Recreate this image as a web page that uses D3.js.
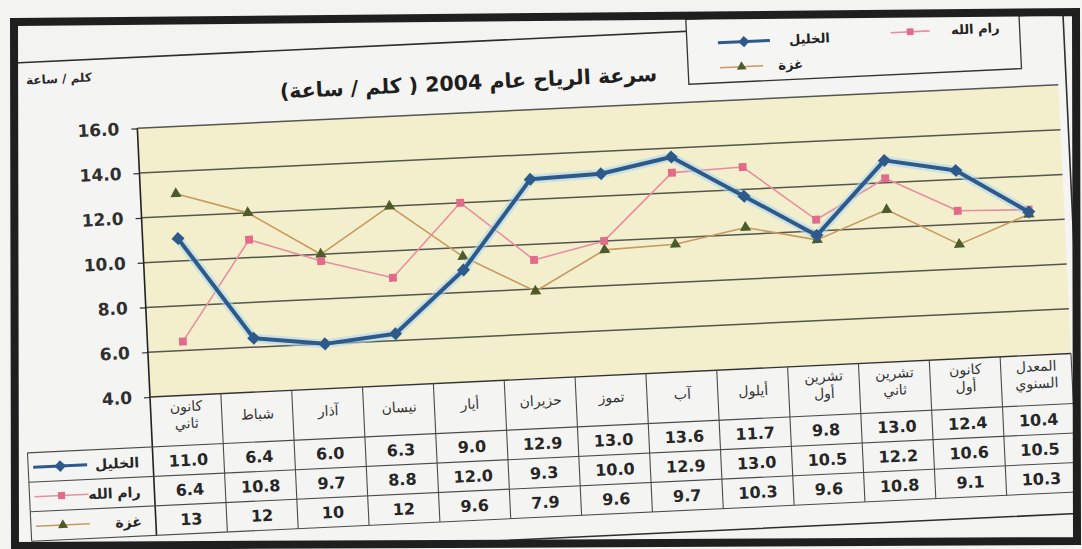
<!DOCTYPE html>
<html>
<head>
<meta charset="utf-8">
<script src="https://cdn.jsdelivr.net/npm/d3@7"></script>
<style>
  html, body { margin: 0; padding: 0; background: #f3f3f2; }
  svg { display: block; }
  text { font-family: "DejaVu Sans", "Noto Sans", sans-serif; }
</style>
</head>
<body>
<svg id="chart" width="1082" height="549"></svg>
<script>
// Wind speed 2004 (km/h) by month for three stations
const months = ["كانون ثاني", "شباط", "آذار", "نيسان", "أيار", "حزيران", "تموز",
                "آب", "أيلول", "تشرين أول", "تشرين ثاني", "كانون أول", "المعدل السنوي"];
const hebron   = [11.0, 6.4, 6.0, 6.3, 9.0, 12.9, 13.0, 13.6, 11.7, 9.8, 13.0, 12.4, 10.4];
const ramallah = [6.4, 10.8, 9.7, 8.8, 12.0, 9.3, 10.0, 12.9, 13.0, 10.5, 12.2, 10.6, 10.5];
const gaza     = [13, 12, 10, 12, 9.6, 7.9, 9.6, 9.7, 10.3, 9.6, 10.8, 9.1, 10.3];
const seriesNames = ["الخليل", "رام الله", "غزة"];
const yTicks = [4, 6, 8, 10, 12, 14, 16];
const chartTitle = "سرعة الرياح عام 2004 ( كلم / ساعة)";
const unitLabel = "كلم / ساعة";

// ---- layout ----
const plotW = 922, plotH = 269;
const headerH = 50, rowH = 29.5;
const labelColW = 125;
const tableBottom = headerH + rowH * 3;

const svg = d3.select("#chart");
svg.append("rect").attr("width", 1082).attr("height", 549).attr("fill", "#f3f3f2");

const frameCorners = [[14, 22], [1076, 12], [1077, 541], [15, 546]];
svg.append("defs").append("clipPath").attr("id", "inside")
  .append("polygon").attr("points", frameCorners.map(p => p.join(",")).join(" "));

const clipped = svg.append("g").attr("clip-path", "url(#inside)");
const g = clipped.append("g").attr("transform", "translate(150,397) rotate(-2.7)");

const x = d3.scaleBand().domain(d3.range(months.length)).range([0, plotW]);
const y = d3.scaleLinear().domain([4, 16]).range([0, -plotH]);
const cx = i => x(i) + x.bandwidth() / 2;

// chart area
g.append("rect")
  .attr("x", -170).attr("y", -340).attr("width", 1100).attr("height", 500)
  .attr("fill", "#f4f4f2").attr("stroke", "#2e2e2e").attr("stroke-width", 1.6);

// plot area
g.append("rect")
  .attr("x", 0).attr("y", y(16)).attr("width", plotW).attr("height", plotH)
  .attr("fill", "#f3efcc");

// gridlines
g.append("g").selectAll("line").data(yTicks.filter(t => t > 4)).join("line")
  .attr("x1", 0).attr("x2", plotW)
  .attr("y1", d => y(d)).attr("y2", d => y(d))
  .attr("stroke", "#3a3a3a").attr("stroke-width", 1.5).attr("opacity", 0.85);

// y axis
const yAxis = d3.axisLeft(y).tickValues(yTicks).tickSize(6).tickPadding(12)
  .tickFormat(d => d.toFixed(1));
const ya = g.append("g").call(yAxis);
ya.select(".domain").remove();
ya.selectAll(".tick line").attr("stroke", "#333").attr("stroke-width", 1.2);
ya.selectAll(".tick text")
  .attr("fill", "#2f2f2f").style("font-size", "17px").style("font-weight", "bold")
  .style("font-family", "'DejaVu Sans', sans-serif");

g.append("line").attr("x1", 0).attr("x2", 0).attr("y1", y(16)).attr("y2", tableBottom)
  .attr("stroke", "#222").attr("stroke-width", 1.6);
g.append("line").attr("x1", 0).attr("x2", plotW).attr("y1", 0).attr("y2", 0)
  .attr("stroke", "#333").attr("stroke-width", 1.4);

// ---- series ----
const series = [
  { name: seriesNames[2], values: gaza, fmt: d => String(d),
    stroke: "#c79a5d", width: 1.6, symbol: d3.symbolTriangle, size: 55, rot: 0, fill: "#4b5c2a" },
  { name: seriesNames[1], values: ramallah, fmt: d => d.toFixed(1),
    stroke: "#e78fa1", width: 1.6, symbol: d3.symbolSquare, size: 62, rot: 0, fill: "#e26b89" },
  { name: seriesNames[0], values: hebron, fmt: d => d.toFixed(1),
    stroke: "#2e5a8b", width: 4, symbol: d3.symbolSquare, size: 85, rot: 45, fill: "#2e5a8b", halo: "#a8d6f0" }
];
const [gazaS, ramallahS, hebronS] = series;

const line = d3.line().x((d, i) => cx(i)).y(d => y(d));
series.forEach(s => {
  const sg = g.append("g");
  if (s.halo) {
    sg.append("path").attr("d", line(s.values)).attr("fill", "none")
      .attr("stroke", s.halo).attr("stroke-width", 9).attr("opacity", 0.55)
      .attr("stroke-linejoin", "round");
  }
  sg.append("path").attr("d", line(s.values)).attr("fill", "none")
    .attr("stroke", s.stroke).attr("stroke-width", s.width).attr("stroke-linejoin", "round");
  sg.selectAll("path.mk").data(s.values).join("path").attr("class", "mk")
    .attr("d", d3.symbol(s.symbol, s.size))
    .attr("transform", (d, i) => `translate(${cx(i)},${y(d)}) rotate(${s.rot})`)
    .attr("fill", s.fill);
});

// ---- data table ----
const tbl = g.append("g");
const tableRows = [hebronS, ramallahS, gazaS];
const lineColor = "#4a4a4a";

// column separators
tbl.selectAll("line.col").data(d3.range(1, months.length + 1)).join("line").attr("class", "col")
  .attr("x1", d => x(d - 1) + x.bandwidth()).attr("x2", d => x(d - 1) + x.bandwidth())
  .attr("y1", 0).attr("y2", tableBottom)
  .attr("stroke", lineColor).attr("stroke-width", 1.1);
// row separators
const rowLines = [headerH, headerH + rowH, headerH + 2 * rowH, tableBottom];
tbl.selectAll("line.row").data(rowLines).join("line").attr("class", "row")
  .attr("x1", -labelColW).attr("x2", plotW).attr("y1", d => d).attr("y2", d => d)
  .attr("stroke", lineColor).attr("stroke-width", 1.1);
tbl.append("line").attr("x1", -labelColW).attr("x2", -labelColW)
  .attr("y1", headerH).attr("y2", tableBottom).attr("stroke", lineColor).attr("stroke-width", 1.1);

// month headers
months.forEach((m, i) => {
  const parts = m.split(" ");
  const t = tbl.append("text").attr("text-anchor", "middle")
    .attr("fill", "#333").style("font-size", "14px");
  if (parts.length === 1) {
    t.append("tspan").attr("x", cx(i)).attr("y", 27).text(parts[0]);
  } else {
    t.append("tspan").attr("x", cx(i)).attr("y", 16).text(parts[0]);
    t.append("tspan").attr("x", cx(i)).attr("y", 33).text(parts[1]);
  }
});

// values and row legends
tableRows.forEach((s, r) => {
  const midY = headerH + rowH * r + rowH / 2;
  tbl.append("g").selectAll("text").data(s.values).join("text")
    .attr("x", (d, i) => cx(i)).attr("y", midY).attr("dy", "0.36em")
    .attr("text-anchor", "middle").attr("fill", "#262626")
    .style("font-size", "16px").style("font-weight", "bold")
    .text(d => s.fmt(d));
  tbl.append("line").attr("x1", -120).attr("x2", -66).attr("y1", midY).attr("y2", midY)
    .attr("stroke", s.stroke).attr("stroke-width", Math.min(s.width, 3));
  tbl.append("path").attr("d", d3.symbol(s.symbol, s.size * 0.8))
    .attr("transform", `translate(-93,${midY}) rotate(${s.rot})`).attr("fill", s.fill);
  tbl.append("text").attr("x", -14).attr("y", midY).attr("dy", "0.36em")
    .attr("text-anchor", "end").attr("fill", "#262626")
    .style("font-size", "14px").style("font-weight", "bold").text(s.name);
});

// ---- legend ----
const lg = g.append("g");
lg.append("rect").attr("x", 553).attr("y", -352).attr("width", 333).attr("height", 65)
  .attr("fill", "#f5f5f3").attr("stroke", "#333").attr("stroke-width", 1.3);
const legendSlots = [
  { s: hebronS,   x1: 584, x2: 636, ty: -327, tx: 696 },
  { s: ramallahS, x1: 757, x2: 796, ty: -329, tx: 866 },
  { s: gazaS,     x1: 585, x2: 628, ty: -302, tx: 668 }
];
legendSlots.forEach(o => {
  lg.append("line").attr("x1", o.x1).attr("x2", o.x2).attr("y1", o.ty).attr("y2", o.ty)
    .attr("stroke", o.s.stroke).attr("stroke-width", Math.min(o.s.width, 3));
  lg.append("path").attr("d", d3.symbol(o.s.symbol, o.s.size * 0.75))
    .attr("transform", `translate(${(o.x1 + o.x2) / 2},${o.ty}) rotate(${o.s.rot})`)
    .attr("fill", o.s.fill);
  lg.append("text").attr("x", o.tx).attr("y", o.ty).attr("dy", "0.36em")
    .attr("text-anchor", "end").attr("fill", "#222")
    .style("font-size", "13px").style("font-weight", "bold").text(o.s.name);
});

// ---- titles ----
g.append("text").attr("x", 333).attr("y", -292)
  .attr("text-anchor", "middle").attr("direction", "rtl")
  .attr("fill", "#1e1e1e").style("font-size", "20.5px").style("font-weight", "bold")
  .text(chartTitle);
g.append("text").attr("x", -76).attr("y", -318)
  .attr("text-anchor", "middle").attr("direction", "rtl")
  .attr("fill", "#2a2a2a").style("font-size", "12px").style("font-weight", "bold")
  .text(unitLabel);

// outer frame
svg.append("polygon").attr("points", frameCorners.map(p => p.join(",")).join(" "))
  .attr("fill", "none").attr("stroke", "#1f1f1f").attr("stroke-width", 8)
  .attr("stroke-linejoin", "miter");
</script>
</body>
</html>
